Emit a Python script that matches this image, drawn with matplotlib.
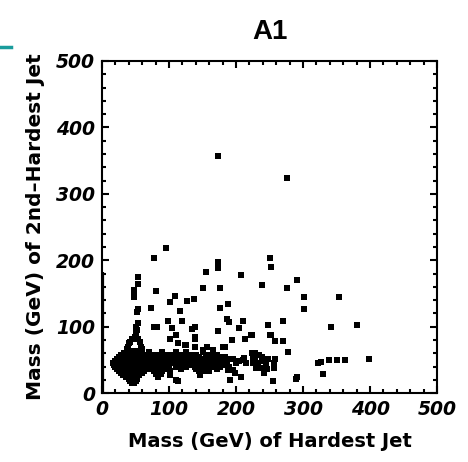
import matplotlib.pyplot as plt
from matplotlib.ticker import MultipleLocator
from matplotlib.lines import Line2D

# Masses (GeV): hardest jet (x) vs 2nd-hardest jet (y)

# scattered points
sparse_x = [96, 78, 53, 53, 48, 48, 48, 81, 155, 150, 109, 101, 127, 137, 117, 54, 73, 52,
            99, 119, 77, 82, 104, 134, 139, 101, 114, 126, 138, 101, 114,
            250, 252, 173, 173, 173, 208, 176, 239, 276, 291, 301, 301, 188, 176, 186, 190,
            211, 270, 247, 204, 173, 252, 224, 213, 194, 258, 270, 183, 157, 278, 166, 228,
            196, 191, 208, 241, 255, 291, 289, 323, 327, 330,
            354, 342, 380, 339, 351, 362, 398, 173, 276,
            111, 139, 124, 139, 151, 181, 146, 111, 199, 188, 223, 251]
sparse_y = [219, 204, 175, 165, 155, 150, 145, 154, 183, 159, 147, 137, 139, 141, 123, 127, 128, 122,
            109, 109, 100, 100, 98, 96, 100, 82, 76, 72, 82, 27, 19,
            204, 190, 188, 193, 197, 178, 159, 163, 159, 170, 144, 126, 134, 128, 111, 107,
            108, 108, 103, 98, 93, 87, 87, 82, 80, 78, 78, 70, 70, 62, 65, 60,
            35, 20, 25, 30, 19, 25, 22, 45, 47, 29,
            144, 100, 103, 50, 50, 50, 52, 357, 324,
            87, 85, 72, 70, 65, 70, 27, 20, 30, 35, 87, 87]

# dense blob at low mass, read row by row (y: list of x)
blob_rows = {
    15: [44, 48],
    18: [42, 46, 50],
    21: [40, 44, 48, 52],
    24: [36, 40, 44, 48, 52, 84],
    27: [32, 36, 40, 45, 50, 55],
    29: [80, 88, 146],
    30: [28, 33, 37, 41, 46, 50, 55, 60],
    33: [25, 30, 35, 39, 43, 47, 52, 57, 62, 78, 90, 102, 145, 150, 160, 242],
    36: [22, 27, 32, 36, 40, 44, 48, 53, 58, 63, 67, 246],
    37: [75, 85, 95, 118, 140, 148, 155, 172],
    38: [230, 236, 256],
    39: [20, 25, 30, 34, 38, 42, 46, 50, 55, 60, 65],
    40: [72, 80, 90, 98, 110, 125, 138, 146, 152, 162, 176, 190],
    42: [18, 23, 28, 33, 37, 41, 45, 49, 54, 59, 64, 244],
    43: [70, 78, 85, 92, 100, 112, 120, 128, 136, 142, 150, 156, 168, 182],
    45: [17, 22, 27, 32, 36, 40, 44, 48, 52, 57, 62, 200, 232, 257],
    46: [68, 74, 80, 88, 95, 102, 108, 115, 123, 130, 138, 146, 152, 160, 170, 176, 186, 215, 226],
    48: [19, 25, 30, 35, 39, 43, 47, 51, 56, 61, 205, 240],
    49: [70, 76, 83, 90, 97, 104, 110, 117, 125, 133, 140, 148, 154, 162, 172, 178, 186],
    50: [210, 228],
    51: [22, 28, 33, 38, 42, 46, 50, 55, 60],
    52: [66, 72, 79, 86, 92, 99, 106, 113, 121, 129, 137, 144, 150, 158, 168, 180, 188, 195, 248, 258],
    53: [212],
    54: [25, 31, 36, 40, 44, 48, 53, 58],
    55: [68, 74, 82, 88, 96, 104, 112, 120, 128, 136, 145, 155, 165, 176, 183, 225, 238],
    57: [28, 34, 38, 42, 46, 51, 56],
    58: [66, 78, 85, 95, 102, 118, 132, 140, 160, 172, 234],
    60: [33, 37, 41, 45, 50, 55, 224],
    62: [70, 90, 110, 125, 150, 166],
    63: [38, 42, 47, 52, 57, 40, 57],
    66: [38, 59],
    70: [39, 58],
    75: [40],
    77: [42, 56],
    82: [45, 53],
    85: [49],
    90: [50],
    95: [52],
    100: [51],
    105: [53],
}

blob_x = [x for y, xs in blob_rows.items() for x in xs]
blob_y = [y for y, xs in blob_rows.items() for x in xs]

# points sitting right on the x = 0 edge
edge_x = 1
edge_ymax = 182

fig = plt.figure(figsize=(4.68, 4.62), dpi=100)
ax = fig.add_axes([0.218, 0.149, 0.716, 0.719])

ax.scatter(sparse_x + blob_x, sparse_y + blob_y, marker='s', s=14, color='black',
           linewidths=0, clip_on=False)
ax.vlines(edge_x, 0, edge_ymax, color='black', linewidth=1.6)

ax.set_xlim(0, 500)
ax.set_ylim(0, 500)
ax.xaxis.set_major_locator(MultipleLocator(100))
ax.yaxis.set_major_locator(MultipleLocator(100))
ax.xaxis.set_minor_locator(MultipleLocator(20))
ax.yaxis.set_minor_locator(MultipleLocator(20))
ax.tick_params(which='both', direction='in', top=True, right=True, width=1.5, color='black')
ax.tick_params(which='major', length=5, pad=5)
ax.tick_params(which='minor', length=3)
for sp in ax.spines.values():
    sp.set_linewidth(1.5)

for lab in ax.get_xticklabels() + ax.get_yticklabels():
    lab.set_fontfamily('DejaVu Sans')
    lab.set_fontweight('bold')
    lab.set_fontstyle('italic')
    lab.set_fontsize(13.5)

ax.set_xlabel('Mass (GeV) of Hardest Jet', fontfamily='DejaVu Sans',
              fontweight='bold', fontsize=14, labelpad=9)
ax.set_ylabel('Mass (GeV) of 2nd\u2013Hardest Jet', fontfamily='DejaVu Sans',
              fontweight='bold', fontsize=14.5, labelpad=8)
ax.set_title('A1', fontfamily='Liberation Sans', fontweight='bold', fontsize=20, pad=16)

# small teal bar in the top left corner
fig.add_artist(Line2D([0, 0.024], [0.898, 0.898], color='#1a9c9c', linewidth=2.5,
                      transform=fig.transFigure))

fig.savefig('out.png', dpi=100)
